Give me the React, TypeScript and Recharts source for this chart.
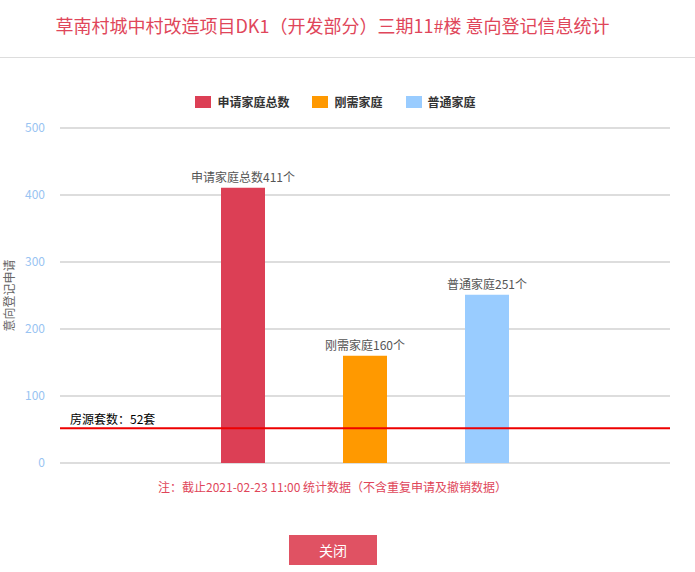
import React from 'react'
import { BarChart, Bar, XAxis, YAxis, CartesianGrid, Legend, ReferenceLine, LabelList } from 'recharts'

// five slots on the x axis, bars sit in the middle three
const categories = ['left', '申请家庭总数', '刚需家庭', '普通家庭', 'right']
const totalFamilies = [null, 411, null, null, null]
const rigidFamilies = [null, null, 160, null, null]
const normalFamilies = [null, null, null, 251, null]
const yTicks = [0, 100, 200, 300, 400, 500]
const housingCount = 52
const seriesNames = ['申请家庭总数', '刚需家庭', '普通家庭']

const data = categories.map((name, i) => ({
  name,
  total: totalFamilies[i],
  rigid: rigidFamilies[i],
  normal: normalFamilies[i],
}))

const FONT = '"Microsoft YaHei", "Noto Sans CJK SC", sans-serif'

function barLabel(prefix: string) {
  return (props: any) => {
    const { x, y, width, value } = props
    if (value == null) return null
    return (
      <text x={x + width / 2} y={y - 6} textAnchor="middle" fontSize={12} fill="#555" fontFamily={FONT}>
        {prefix}{value}个
      </text>
    )
  }
}

function renderYLabel(props: any) {
  const { viewBox } = props
  const cx = 8
  const cy = viewBox.y + viewBox.height / 2
  return (
    <text
      x={cx}
      y={cy}
      transform={`rotate(-90 ${cx} ${cy})`}
      textAnchor="middle"
      dominantBaseline="central"
      fontSize={12}
      fill="#666"
      fontFamily={FONT}
    >
      意向登记申请
    </text>
  )
}

function renderRefLabel(props: any) {
  const { viewBox } = props
  return (
    <text x={viewBox.x + 10} y={viewBox.y - 4} fontSize={12} fill="#000" fontFamily={FONT}>
      房源套数：{housingCount}套
    </text>
  )
}

function renderLegend(props: any) {
  // keep series order, legend sorts by name otherwise
  const payload = [...(props.payload || [])].sort(
    (a: any, b: any) => seriesNames.indexOf(a.value) - seriesNames.indexOf(b.value)
  )
  return (
    <div style={{ display: 'flex', justifyContent: 'center', fontFamily: FONT, paddingRight: 24 }}>
      {payload.map((item: any, i: number) => (
        <div key={i} style={{ display: 'flex', alignItems: 'center', marginRight: i < payload.length - 1 ? 23 : 0 }}>
          <span style={{ display: 'inline-block', width: 16, height: 12, background: item.color, marginRight: 6 }} />
          <span style={{ fontSize: 12, fontWeight: 'bold', color: '#333' }}>{item.value}</span>
        </div>
      ))}
    </div>
  )
}

export default function App() {
  return (
    <div style={{ position: 'absolute', left: 0, top: 0, width: 695, height: 572, background: '#fff', fontFamily: FONT }}>
      <div style={{ position: 'absolute', left: 0, top: 13, width: 665, textAlign: 'center', fontSize: 18, lineHeight: '24px', color: '#e0465a' }}>
        草南村城中村改造项目DK1（开发部分）三期11#楼 意向登记信息统计
      </div>
      <div style={{ position: 'absolute', left: 0, top: 57, width: 695, height: 1, background: '#ddd' }} />

      <div style={{ position: 'absolute', left: 0, top: 0 }}>
        <BarChart width={695} height={572} data={data} margin={{ top: 128, right: 25, bottom: 109, left: 0 }}>
          <CartesianGrid horizontal vertical={false} stroke="#bbb" />
          <XAxis dataKey="name" tick={false} tickLine={false} height={0} axisLine={{ stroke: '#c3cbdb' }} />
          <YAxis
            width={60}
            domain={[0, 500]}
            ticks={yTicks}
            axisLine={false}
            tickLine={false}
            tickSize={0}
            tickMargin={15}
            tick={{ fill: '#99c4f2', fontSize: 12, fontFamily: FONT }}
            label={{ content: renderYLabel }}
          />
          <Legend
            content={renderLegend}
            layout="horizontal"
            verticalAlign="middle"
            align="center"
            wrapperStyle={{ top: 93, left: 0, width: 695 }}
          />
          <Bar dataKey="total" name={seriesNames[0]} stackId="a" fill="#dc3f55" barSize={44} isAnimationActive={false}>
            <LabelList dataKey="total" content={barLabel(seriesNames[0])} />
          </Bar>
          <Bar dataKey="rigid" name={seriesNames[1]} stackId="a" fill="#ff9900" barSize={44} isAnimationActive={false}>
            <LabelList dataKey="rigid" content={barLabel(seriesNames[1])} />
          </Bar>
          <Bar dataKey="normal" name={seriesNames[2]} stackId="a" fill="#99ccff" barSize={44} isAnimationActive={false}>
            <LabelList dataKey="normal" content={barLabel(seriesNames[2])} />
          </Bar>
          <ReferenceLine y={housingCount} stroke="#ee0000" strokeWidth={2} label={{ content: renderRefLabel }} />
        </BarChart>
      </div>

      <div style={{ position: 'absolute', left: 0, top: 479, width: 665, textAlign: 'center', fontSize: 12, lineHeight: '16px', color: '#e0465a' }}>
        注：截止2021-02-23 11:00 统计数据（不含重复申请及撤销数据）
      </div>
      <div
        style={{
          position: 'absolute',
          left: 289,
          top: 535,
          width: 88,
          height: 30,
          lineHeight: '30px',
          background: '#e05263',
          color: '#fff',
          fontSize: 14,
          textAlign: 'center',
        }}
      >
        关闭
      </div>
    </div>
  )
}
